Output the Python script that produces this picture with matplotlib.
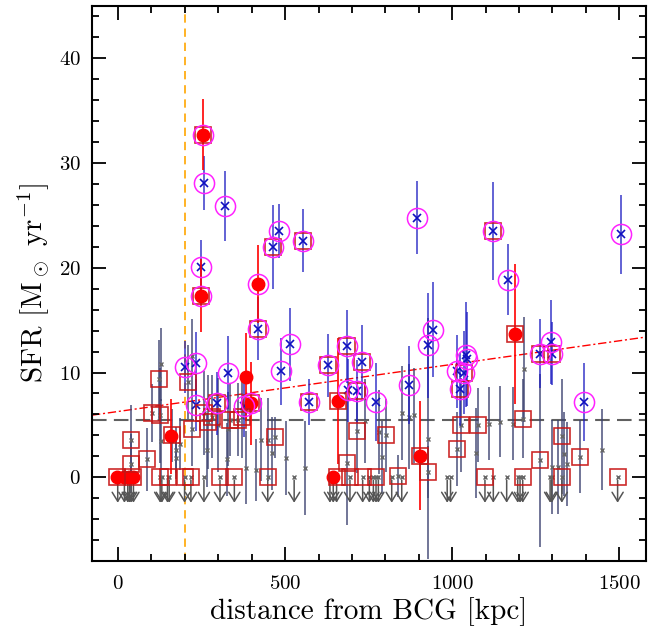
import matplotlib
matplotlib.use("Agg")
import matplotlib.pyplot as plt
import numpy as np

plt.rcParams['font.family'] = ['cmr10', 'DejaVu Serif']
plt.rcParams['mathtext.fontset'] = 'cm'
plt.rcParams['axes.formatter.use_mathtext'] = True

# faint / gray detections
gray_x = [40, 40, 88, 101, 124, 126, 128, 128, 162, 172, 174, 186, 210, 220, 220, 256, 265, 270, 280, 298,
          325, 328, 335, 358, 370, 383, 412, 428, 448, 460, 470, 503, 560, 684, 714, 739, 782, 802, 789, 837,
          849, 872, 887, 929, 927, 1013, 1026, 1071, 1078, 1110, 1143, 1181, 1211, 1216, 1263, 1300, 1316,
          1328, 1335, 1345, 1383, 1447]
gray_y = [3.6, 1.3, 1.7, 6.15, 9.35, 5.9, 10.8, 3.5, 4.0, 2.6, 1.85, 3.2, 9.1, 4.6, 11.6, 6.15, 2.6, 5.3, 5.8, 5.0,
          1.7, 4.6, 5.5, 5.5, 5.8, 0.9, 0.7, 3.6, 3.6, 2.3, 3.8, 1.85, 0.9, 1.4, 4.4, 5.4, 4.3, 4.0, 1.9, 0.1,
          6.1, 5.8, 5.9, 0.5, 3.7, 2.7, 5.0, 2.3, 5.0, 5.1, 5.3, 5.1, 5.6, 10.3, 1.6, 1.0, 1.0,
          3.9, 2.2, 1.3, 1.95, 2.65]
gray_err = [3.3, 2.8, 3.0, 2.8, 3.8, 4.5, 3.5, 4.0, 2.5, 2.2, 2.0, 2.5, 3.5, 3.5, 3.5, 4.0, 3.5, 4.5, 4.0, 4.5,
            3.5, 3.5, 3.5, 3.5, 4.0, 3.5, 3.0, 4.0, 4.0, 3.5, 2.0, 3.5, 4.5, 6.0, 4.0, 4.0, 4.0, 3.5, 3.5, 2.0,
            4.5, 5.0, 4.5, 2.5, 11.5, 3.5, 4.5, 4.3, 3.5, 3.5, 3.4, 3.5, 3.8, 5.0, 8.3, 4.5, 4.5,
            5.5, 4.0, 4.0, 3.5, 3.9]
gray_box = [1, 1, 1, 1, 1, 1, 0, 0, 1, 0, 0, 0, 1, 1, 0, 1, 0, 1, 1, 0,
            0, 0, 1, 1, 1, 0, 0, 0, 0, 0, 1, 0, 0, 1, 1, 0, 0, 1, 0, 1,
            0, 0, 0, 1, 0, 1, 1, 0, 1, 0, 0, 0, 1, 0, 1, 0, 0,
            1, 0, 0, 1, 0]

# upper limits at SFR = 0
lim_x = [-1, 19, 29, 34, 39, 46, 126, 131, 148, 153, 199, 218, 257, 305, 348, 448, 527, 634, 644, 654,
         694, 732, 752, 764, 772, 779, 819, 849, 985, 995, 1098, 1123, 1163, 1196, 1203, 1211, 1293, 1298,
         1328, 1495]
lim_box = [0, 0, 0, 0, 0, 0, 1, 0, 1, 0, 1, 1, 0, 1, 1, 1, 0, 0, 0, 1,
           1, 1, 0, 0, 1, 0, 0, 0, 0, 0, 1, 0, 0, 0, 0, 1, 0, 0,
           1, 1]

# star-forming (blue, circled)
blue_x = [200, 233, 232, 248, 256, 295, 321, 328, 377, 420, 464, 482, 488, 515, 554, 570, 627, 684, 687,
          714, 730, 772, 872, 894, 927, 944, 1013, 1023, 1035, 1041, 1045, 1123, 1166, 1263, 1296, 1300,
          1393, 1506]
blue_y = [10.5, 10.9, 6.9, 20.1, 28.1, 7.05, 25.9, 10.0, 6.8, 14.2, 22.0, 23.5, 10.1, 12.7, 22.6, 7.2, 10.7,
          12.5, 8.3, 8.2, 11.0, 7.2, 8.8, 24.8, 12.6, 14.1, 10.1, 8.4, 10.0, 11.7, 11.3, 23.5, 18.85, 11.8,
          12.9, 11.8, 7.2, 23.2]
blue_err = [2.5, 3.0, 2.5, 2.6, 2.6, 3.0, 3.3, 3.5, 3.0, 3.0, 4.0, 2.6, 3.2, 3.5, 3.0, 2.2, 3.0, 3.5, 3.0,
            3.0, 3.5, 3.7, 3.7, 3.5, 5.0, 4.5, 3.5, 3.5, 4.0, 5.0, 4.5, 4.7, 3.4, 3.3, 4.0, 3.0, 3.7, 3.8]
blue_box = [0, 0, 0, 0, 0, 1, 0, 0, 0, 1, 1, 0, 0, 0, 1, 1, 1, 1, 0,
            1, 1, 0, 0, 0, 0, 0, 0, 1, 1, 0, 0, 1, 0, 1, 0, 1, 0, 0]

# red filled points
red_x = [-3, 17, 32, 44, 157, 248, 254, 383, 397, 420, 644, 657, 904, 1189]
red_y = [0.0, 0.0, 0.0, 0.0, 3.9, 17.35, 32.7, 9.6, 7.05, 18.44, 0.0, 7.3, 2.04, 13.65]
red_err = [0, 0, 0, 0, 3.6, 3.5, 3.4, 4.2, 4.0, 3.7, 0, 6.0, 5.2, 6.7]
red_box = [1, 0, 0, 1, 0, 1, 1, 0, 1, 0, 0, 1, 1, 1]
red_ring = [0, 0, 0, 0, 0, 1, 1, 0, 1, 1, 0, 0, 0, 0]

r_cut = 200.0          # kpc
sfr_thresh = 5.5
fit_a, fit_b = 6.28, 0.0045

fig = plt.figure(figsize=(6.59, 6.33), dpi=100)
ax = fig.add_axes([0.1396, 0.1137, 0.8407, 0.8768])

gx, gy = np.array(gray_x, float), np.array(gray_y, float)
ax.errorbar(gx, gy, yerr=gray_err, fmt='none', ecolor='#3c4170', elinewidth=1.2, alpha=0.85, zorder=1)
ax.plot(gx, gy, 'x', color='#666666', ms=3, mew=1, zorder=2)

lx = np.array(lim_x, float)
ax.plot(lx, np.zeros_like(lx), 'x', color='#666666', ms=3, mew=1, zorder=2)
for xv in lx:
    ax.annotate('', xy=(xv, -2.7), xytext=(xv, 0), zorder=2,
                arrowprops=dict(arrowstyle='->,head_width=0.4,head_length=0.65', color='#555555', lw=1.1))

bx, by = np.array(blue_x, float), np.array(blue_y, float)
ax.errorbar(bx, by, yerr=blue_err, fmt='none', ecolor='#1a1ac0', elinewidth=1.2, alpha=0.8, zorder=3)
ax.plot(bx, by, 'x', color='#1010c0', ms=6, mew=1.2, zorder=4)

rx, ry = np.array(red_x, float), np.array(red_y, float)
ax.errorbar(rx, ry, yerr=red_err, fmt='none', ecolor='red', elinewidth=1.2, zorder=5)
ax.plot(rx, ry, 'o', color='red', ms=9, mec='red', zorder=6)

# boxes and rings
box_x = np.concatenate([gx[np.array(gray_box) == 1], lx[np.array(lim_box) == 1],
                        bx[np.array(blue_box) == 1], rx[np.array(red_box) == 1]])
box_y = np.concatenate([gy[np.array(gray_box) == 1], np.zeros(sum(lim_box)),
                        by[np.array(blue_box) == 1], ry[np.array(red_box) == 1]])
ax.plot(box_x, box_y, 's', mfc='none', mec='#c81414', ms=11, mew=1.2, alpha=0.9, zorder=7)

ring_x = np.concatenate([bx, rx[np.array(red_ring) == 1]])
ring_y = np.concatenate([by, ry[np.array(red_ring) == 1]])
ax.plot(ring_x, ring_y, 'o', mfc='none', mec='#ff22ff', ms=14.5, mew=1.1, zorder=8)

ax.axvline(r_cut, color='orange', lw=1.2, dashes=(5, 3.5), zorder=0)
ax.axhline(sfr_thresh, color='#444444', lw=1.5, dashes=(7, 3.5), alpha=0.85, zorder=0)
xl = np.array([-78, 1580])
ax.plot(xl, fit_a + fit_b * xl, color='red', lw=1, dashes=(6, 2, 1.5, 2), zorder=0)

ax.set_xlim(-78, 1580)
ax.set_ylim(-8, 45)
ax.set_xticks([0, 500, 1000, 1500])
ax.set_yticks([0, 10, 20, 30, 40])
ax.set_xticks(np.arange(0, 1600, 100), minor=True)
ax.set_yticks(np.arange(-8, 46, 2), minor=True)
ax.tick_params(which='both', direction='in', top=True, right=True, width=1.3, labelsize=15)
ax.tick_params(which='major', length=10)
ax.tick_params(which='minor', length=5)
ax.tick_params(axis='x', pad=10)
ax.tick_params(axis='y', pad=8)
for s in ax.spines.values():
    s.set_linewidth(1.5)

ax.set_xlabel('distance from BCG [kpc]', fontsize=21, labelpad=3)
ax.set_ylabel(r'SFR [M$_\odot$ yr$^{-1}$]', fontsize=21, labelpad=6)

fig.savefig('out.png', dpi=100)
